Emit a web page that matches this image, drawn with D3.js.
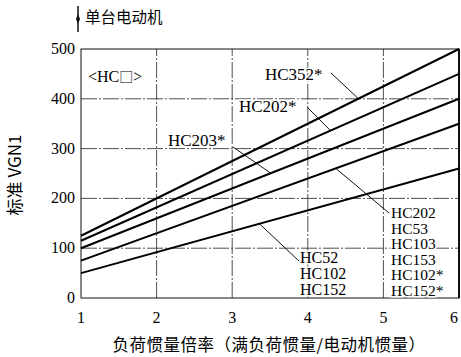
<!DOCTYPE html>
<html><head><meta charset="utf-8">
<script src="https://cdn.jsdelivr.net/npm/d3@7"></script>
<style>
body{margin:0;background:#fff;}
svg{display:block;}
.serif{font-family:"Liberation Serif","DejaVu Serif",serif;}
.cjk{font-family:"Noto Sans CJK SC",sans-serif;}
</style></head>
<body><svg id="c" width="461" height="357"></svg>
<script>
const xTicks = [1,2,3,4,5,6];
const yTicks = [0,100,200,300,400,500];
const seriesNames = ["HC352*","HC202*","HC203*","HC202,HC53,HC103,HC153,HC102*,HC152*","HC52,HC102,HC152"];
const startValues = [125,115,100,75,50];   // at ratio 1
const endValues = [500,450,400,350,260];   // at ratio 6
const labelHC352 = ["HC352*"];
const labelHC202s = ["HC202*"];
const labelHC203 = ["HC203*"];
const labelGroupA = ["HC202","HC53","HC103","HC153","HC102*","HC152*"];
const labelGroupB = ["HC52","HC102","HC152"];
const title = "单台电动机";
const yTitle = "标准 VGN1";
const xTitle = "负荷惯量倍率（满负荷惯量/电动机惯量）";

const svg = d3.select("#c");
const x = d3.scaleLinear().domain([1,6]).range([81,459]);
const y = d3.scaleLinear().domain([0,500]).range([298,49]);

// grid
const g = svg.append("g");
g.selectAll(".vg").data(xTicks.slice(1,-1)).join("line")
 .attr("x1",d=>x(d)).attr("x2",d=>x(d)).attr("y1",y(0)).attr("y2",y(500))
 .attr("stroke","#222").attr("stroke-width",0.8).attr("stroke-dasharray","16,2,2,2");
g.selectAll(".hg").data(yTicks.slice(1,-1)).join("line")
 .attr("x1",x(1)).attr("x2",x(6)).attr("y1",d=>y(d)).attr("y2",d=>y(d))
 .attr("stroke","#222").attr("stroke-width",0.8).attr("stroke-dasharray","16,2,2,2");

// frame
svg.append("rect").attr("x",x(1)).attr("y",y(500)).attr("width",x(6)-x(1)).attr("height",y(0)-y(500))
 .attr("fill","none").attr("stroke","#111").attr("stroke-width",1);
svg.append("line").attr("x1",x(6)).attr("x2",x(6)).attr("y1",y(500)).attr("y2",y(0))
 .attr("stroke","#111").attr("stroke-width",2);

// axes ticks labels
svg.selectAll(".yt").data(yTicks).join("text").attr("class","serif")
 .attr("x",75).attr("y",d=>y(d)+5).attr("text-anchor","end").attr("font-size",16).text(d=>d);
svg.selectAll(".xt").data(xTicks).join("text").attr("class","serif")
 .attr("x",d=>Math.min(x(d),454)).attr("y",323).attr("text-anchor","middle").attr("font-size",16).text(d=>d);

// leader lines helper
function leader(x1,y1,x2,y2){
  svg.append("line").attr("x1",x1).attr("y1",y1).attr("x2",x2).attr("y2",y2)
   .attr("stroke","#111").attr("stroke-width",1);
}
function lineVal(i,r){return startValues[i]+(endValues[i]-startValues[i])*(r-1)/5;}
leader(331,73, x(4.67), y(lineVal(0,4.67)));
leader(307,107, x(4.3), y(lineVal(1,4.3)));
leader(233,147, x(3.51), y(lineVal(2,3.51)));
leader(389,213, x(4.37), y(lineVal(3,4.37)));
leader(300,262, x(3.36), y(lineVal(4,3.36)));

// data lines
svg.selectAll(".ln").data(seriesNames).join("line")
 .attr("x1",x(1)).attr("x2",x(6))
 .attr("y1",(d,i)=>y(startValues[i])).attr("y2",(d,i)=>y(endValues[i]))
 .attr("stroke","#000").attr("stroke-width",2);

// labels
function lbl(arr,x0,y0,dy,fs){
  svg.append("g").selectAll("text").data(arr).join("text").attr("class","serif")
   .attr("x",x0).attr("y",(d,i)=>y0+i*dy).attr("font-size",fs)
   .attr("stroke","#fff").attr("stroke-width",3).attr("paint-order","stroke")
   .attr("fill","#000").text(d=>d);
}
lbl(labelHC352,265,80,0,17);
lbl(labelHC202s,239,112,0,17);
lbl(labelHC203,168,146,0,17);
lbl(labelGroupA,391,218,15.5,15.5);
lbl(labelGroupB,300,263,16,16);

const bx = svg.append("text").attr("x",88).attr("y",82).attr("font-size",16);
bx.append("tspan").attr("class","serif").text("<HC");
bx.append("tspan").attr("class","cjk").attr("font-size",14).text("□");
bx.append("tspan").attr("class","serif").text(">");

// title
svg.append("line").attr("x1",78).attr("x2",78).attr("y1",6).attr("y2",32).attr("stroke","#111").attr("stroke-width",1.5);
svg.append("path").attr("d","M78,14 L76,19 L78,24 L80,19 Z").attr("fill","#111");
svg.append("text").attr("class","cjk").attr("x",85).attr("y",23).attr("font-size",15.5).text(title);

// y title
svg.append("text").attr("class","cjk").attr("transform","translate(21,175) rotate(-90)")
 .attr("text-anchor","middle").attr("font-size",17).text(yTitle);
// x title
svg.append("text").attr("class","cjk").attr("x",269).attr("y",351)
 .attr("text-anchor","middle").attr("font-size",16.5).attr("letter-spacing",0.5).text(xTitle);
</script></body></html>
